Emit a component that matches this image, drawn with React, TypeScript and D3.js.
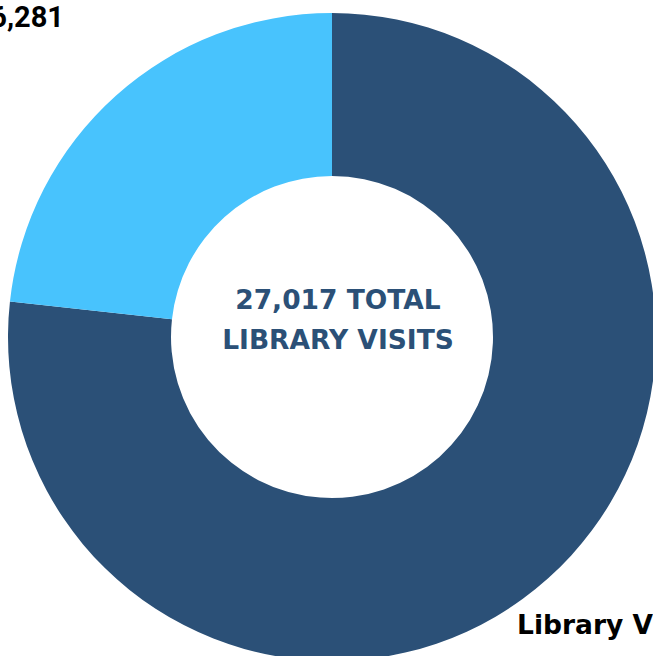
import React from 'react';
import * as d3 from 'd3';

const categories = ['Library Visits', 'Outreach Visits'];
const visits = [20736, 6281];
const colors = ['#2b5077', '#48c3fd'];
const centerLines = ['27,017 TOTAL', 'LIBRARY VISITS'];

const width = 653;
const height = 656;

const App: React.FC = () => {
  const cx = 332;
  const cy = 337;
  const outer = 324;
  const inner = 161;

  const pie = d3.pie<number>().value((d) => d).sort(null);
  const arc = d3.arc<d3.PieArcDatum<number>>().innerRadius(inner).outerRadius(outer);
  const arcs = pie(visits);
  const fmt = d3.format(',');

  return (
    <svg
      width={width}
      height={height}
      style={{ position: 'absolute', left: 0, top: 0, overflow: 'hidden' }}
      fontFamily="'DejaVu Sans', sans-serif"
    >
      <rect width={width} height={height} fill="#fff" />
      <g transform={`translate(${cx},${cy})`}>
        {arcs.map((a, i) => (
          <path key={i} d={arc(a) || ''} fill={colors[i]} />
        ))}
      </g>
      {/* slice labels, partly outside the frame */}
      <text x={517} y={634} fontSize={26.5} fontWeight={700} fill="#000">
        {`${categories[0]}: ${fmt(visits[0])}`}
      </text>
      <text
        x={64}
        y={27}
        fontSize={29}
        fontWeight={700}
        fill="#000"
        textAnchor="end"
        fontFamily="Roboto, sans-serif"
      >
        {`${categories[1]}: ${fmt(visits[1])}`}
      </text>
      <g fill="#2b5077" fontSize={26.5} fontWeight={700} textAnchor="middle">
        {centerLines.map((t, i) => (
          <text key={i} x={338} y={309 + i * 40}>
            {t}
          </text>
        ))}
      </g>
    </svg>
  );
};

export default App;
